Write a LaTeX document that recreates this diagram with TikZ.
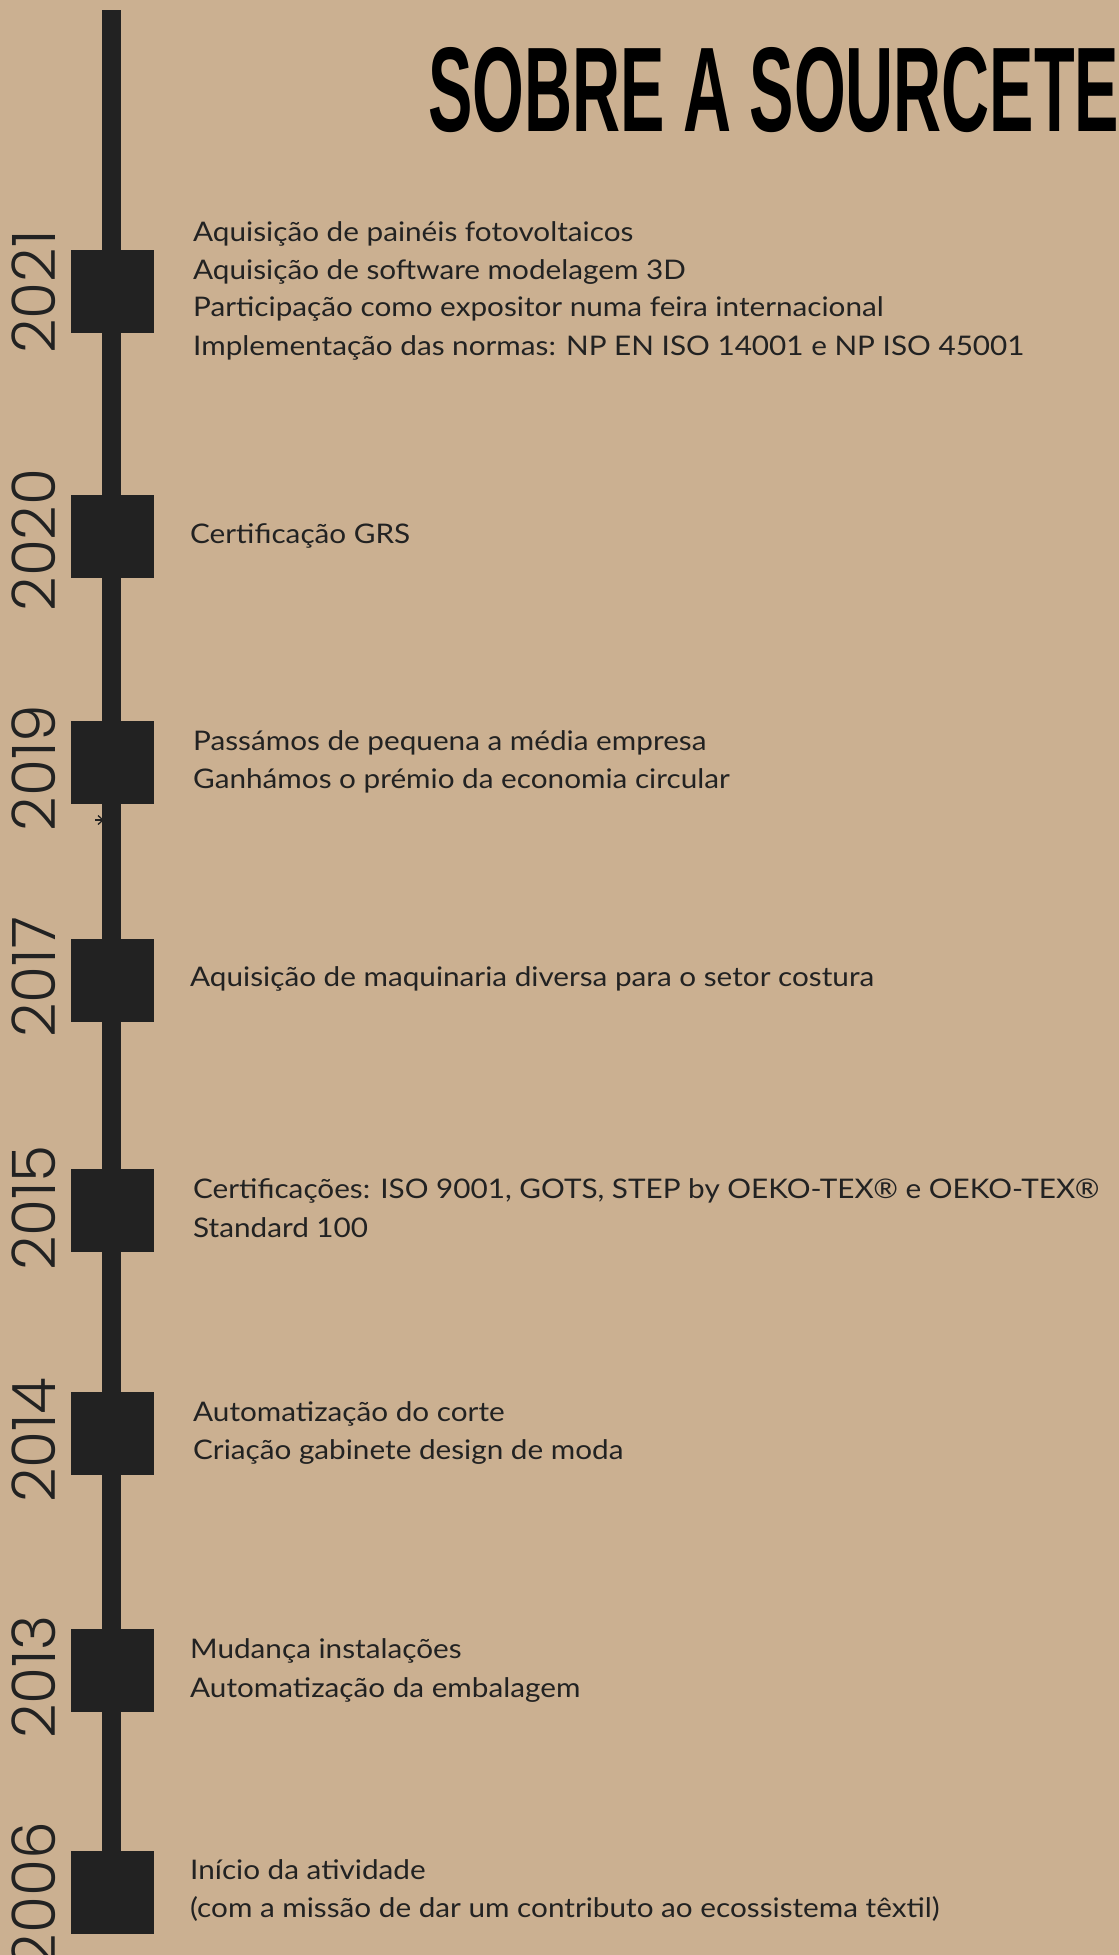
\documentclass[tikz,border=0pt]{standalone}
\usepackage{fontspec}
\setmainfont{Lato}
\newfontfamily\bodyfont{Lato}[FakeStretch=1.1]
\newfontfamily\yearfont{Poppins Light}
\newfontfamily\titlefont{Liberation Sans}
\definecolor{bg}{HTML}{CBB091}
\definecolor{ink}{HTML}{222222}
\begin{document}
\begin{tikzpicture}[x=1pt,y=-1pt,
  marker/.style={fill=ink,draw=none,minimum size=83pt,inner sep=0pt,outer sep=0pt},
  yearlbl/.style={rotate=90,font=\yearfont\fontsize{60}{60}\selectfont,text=ink,inner sep=0pt},
  entry/.style={anchor=base west,font=\bodyfont\fontsize{27}{27}\selectfont,text=ink,inner sep=0pt},
  spine/.style={draw=ink,line width=19pt}]
\fill[bg] (0,0) rectangle (1119,1955);
\useasboundingbox (0,0) rectangle (1119,1955);
% title
\node[anchor=north west,inner sep=0pt] (title) at (428,47)
  {\resizebox{691pt}{84pt}{\titlefont\bfseries SOBRE A SOURCETE}};
% markers
\node[marker] (s21) at (112,291.5) {};
\node[marker] (s20) at (112,536.5) {};
\node[marker] (s19) at (112,762) {};
\node[marker] (s17) at (112,980) {};
\node[marker] (s15) at (112,1210) {};
\node[marker] (s14) at (112,1433.5) {};
\node[marker] (s13) at (112,1670.5) {};
\node[marker] (s06) at (112,1892) {};
% small arrow mark
\coordinate (arrA) at (95,820);
\coordinate (arrB) at (103,820);
\draw[ink,line width=1.3pt] (arrA) -- (arrB);
\draw[ink,line width=1.3pt] (98,815.5) -- (arrB) -- (98,824.5);
% spine
\coordinate (top) at (111.5,10);
\draw[spine] (top) -- (s06.north -| top);
% years
\node[yearlbl] (y21) at (33.5,292) {2021};
\node[yearlbl] (y20) at (33.5,540) {2020};
\node[yearlbl] (y19) at (33.5,768) {2019};
\node[yearlbl] (y17) at (33.5,977) {2017};
\node[yearlbl] (y15) at (33.5,1208) {2015};
\node[yearlbl] (y14) at (33.5,1440) {2014};
\node[yearlbl] (y13) at (33.5,1677) {2013};
\node[yearlbl] (y06) at (33.5,1895) {2006};
% entries
\node[entry] (t21a) at (193,241) {Aquisição de painéis fotovoltaicos};
\node[entry] (t21b) at (193,279) {Aquisição de software modelagem 3D};
\node[entry] (t21c) at (193,316) {Participação como expositor numa feira internacional};
\node[entry] (t21d) at (193,355) {Implementação das normas: NP EN ISO 14001 e NP ISO 45001};
\node[entry] (t20a) at (190,543) {Certificação GRS};
\node[entry] (t19a) at (193,750) {Passámos de pequena a média empresa};
\node[entry] (t19b) at (193,788) {Ganhámos o prémio da economia circular};
\node[entry] (t17a) at (190,986) {Aquisição de maquinaria diversa para o setor costura};
\node[entry] (t15a) at (193,1198) {Certificações: ISO 9001, GOTS, STEP by OEKO-TEX® e OEKO-TEX®};
\node[entry] (t15b) at (193,1237) {Standard 100};
\node[entry] (t14a) at (193,1421) {Automatização do corte};
\node[entry] (t14b) at (193,1459) {Criação gabinete design de moda};
\node[entry] (t13a) at (190,1658) {Mudança instalações};
\node[entry] (t13b) at (190,1697) {Automatização da embalagem};
\node[entry] (t06a) at (190,1879) {Início da atividade};
\node[entry] (t06b) at (190,1917) {(com a missão de dar um contributo ao ecossistema têxtil)};
\end{tikzpicture}
\end{document}
